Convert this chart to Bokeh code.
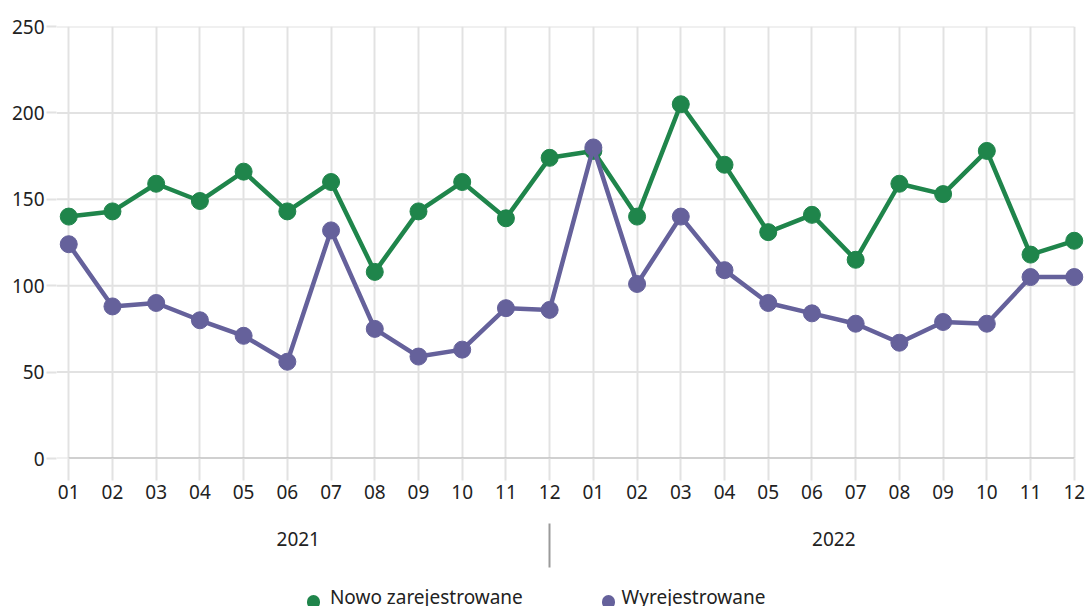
from bokeh.plotting import figure
from bokeh.models import Range1d, FixedTicker, LinearAxis
from bokeh.embed import file_html
from bokeh.resources import INLINE

# ---- data ----
months = ["01", "02", "03", "04", "05", "06", "07", "08", "09", "10", "11", "12",
          "01", "02", "03", "04", "05", "06", "07", "08", "09", "10", "11", "12"]
years = ["2021", "2022"]
nowo = [140, 143, 159, 149, 166, 143, 160, 108, 143, 160, 139, 174,
        178, 140, 205, 170, 131, 141, 115, 159, 153, 178, 118, 126]
wyrej = [124, 88, 90, 80, 71, 56, 132, 75, 59, 63, 87, 86,
         180, 101, 140, 109, 90, 84, 78, 67, 79, 78, 105, 105]
y_ticks = [0, 50, 100, 150, 200, 250]
series_names = ["Nowo zarejestrowane", "Wyrejestrowane"]

GREEN = "#1f854b"
PURPLE = "#65619b"
GRID = "#e2e2e2"
TEXT = "#222222"
FONT = "Noto Sans"
FS = "19px"

x = list(range(len(months)))
n = len(months)

p = figure(frame_width=1030, frame_height=432,
           x_range=Range1d(-0.28, n - 1 + 0.28), y_range=Range1d(0, 250),
           output_backend="svg", toolbar_location=None,
           min_border_left=56, min_border_right=3, min_border_top=26, min_border_bottom=0)
p.outline_line_color = None
p.background_fill_color = "white"

# grids
p.ygrid.grid_line_color = None
p.xgrid.ticker = FixedTicker(ticks=x)
p.xgrid.grid_line_color = GRID
p.xgrid.grid_line_width = 2

# horizontal grid lines bounded to the category span
p.segment(x0=[p.x_range.start] * len(y_ticks), x1=[x[-1]] * len(y_ticks),
          y0=y_ticks, y1=y_ticks, line_color=GRID, line_width=2)
# zero baseline
p.segment(x0=[x[0]], x1=[x[-1]], y0=[y_ticks[0]], y1=[y_ticks[0]],
          line_color="#b0b0b0", line_width=2)

# month axis
xa = p.xaxis[0]
xa.ticker = FixedTicker(ticks=x)
xa.major_label_overrides = {i: m for i, m in enumerate(months)}
xa.axis_line_color = None
xa.major_tick_in = 0
xa.major_tick_out = 22
xa.major_tick_line_color = GRID
xa.major_tick_line_width = 2
xa.minor_tick_line_color = None
xa.major_label_standoff = 4
xa.major_label_text_font = FONT
xa.major_label_text_font_size = FS
xa.major_label_text_color = TEXT

# year labels axis
year_pos = [5.25, 17.5]
year_axis = LinearAxis(ticker=FixedTicker(ticks=year_pos),
                       major_label_overrides={v: t for v, t in zip(year_pos, years)},
                       axis_line_color=None, major_tick_line_color=None,
                       minor_tick_line_color=None,
                       major_tick_in=0, major_tick_out=0,
                       major_label_standoff=30,
                       major_label_text_font=FONT, major_label_text_font_size=FS,
                       major_label_text_color=TEXT)
p.add_layout(year_axis, "below")

# legend texts axis, with the year separator as its minor tick
legend_text_pos = [8.18, 14.29]
leg_axis = LinearAxis(ticker=FixedTicker(ticks=legend_text_pos, minor_ticks=[11]),
                      major_label_overrides={v: t for v, t in zip(legend_text_pos, series_names)},
                      axis_line_color=None, major_tick_line_color=None,
                      major_tick_in=0, major_tick_out=0,
                      minor_tick_line_color="#9a9a9a", minor_tick_line_width=2,
                      minor_tick_in=25, minor_tick_out=19,
                      major_label_standoff=16,
                      major_label_text_font=FONT, major_label_text_font_size=FS,
                      major_label_text_color=TEXT)
p.add_layout(leg_axis, "below")

# legend markers (round-capped ticks drawn upward)
dot_pos = [5.60, 12.35]
dot_axis = LinearAxis(ticker=FixedTicker(ticks=[dot_pos[0]], minor_ticks=[dot_pos[1]]),
                      major_label_overrides={dot_pos[0]: ""},
                      major_label_text_font_size="1px", major_label_standoff=0,
                      axis_line_color=None,
                      major_tick_line_color=GREEN, major_tick_line_width=13,
                      major_tick_line_cap="round",
                      major_tick_in=11, major_tick_out=-10,
                      minor_tick_line_color=PURPLE, minor_tick_line_width=13,
                      minor_tick_line_cap="round",
                      minor_tick_in=11, minor_tick_out=-10)
p.add_layout(dot_axis, "below")

ya = p.yaxis[0]
ya.ticker = FixedTicker(ticks=y_ticks)
ya.axis_line_color = None
ya.major_tick_in = 0
ya.major_tick_out = 10
ya.major_tick_line_color = GRID
ya.major_tick_line_width = 2
ya.minor_tick_line_color = None
ya.major_label_standoff = 2
ya.major_label_text_font = FONT
ya.major_label_text_font_size = FS
ya.major_label_text_color = TEXT

# series
p.line(x, nowo, line_color=GREEN, line_width=4.5)
p.scatter(x, nowo, size=17, fill_color=GREEN, line_color=GREEN)
p.line(x, wyrej, line_color=PURPLE, line_width=4.5)
p.scatter(x, wyrej, size=17, fill_color=PURPLE, line_color=PURPLE)

open("out.html", "w").write(file_html(p, INLINE))
